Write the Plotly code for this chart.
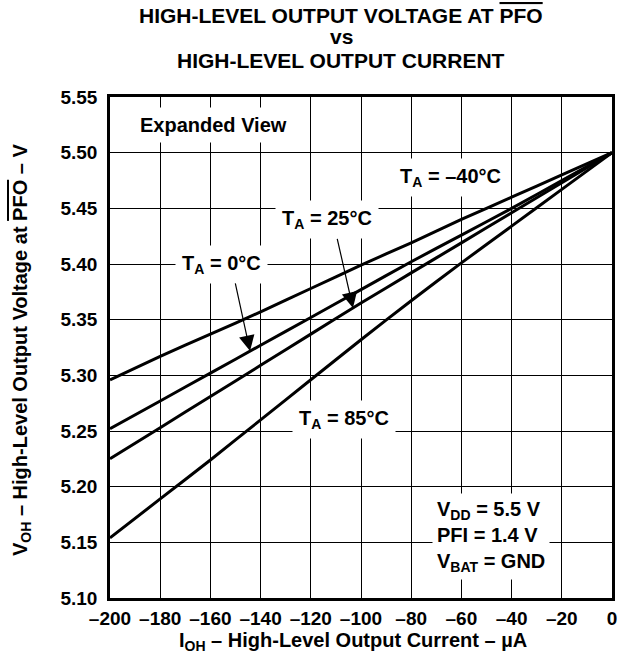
import numpy as np
import plotly.graph_objects as go

# ---- data ----
current_uA = [-200, -180, -160, -140, -120, -100, -80, -60, -40, -20, 0]
voh_m40C = [5.296, 5.317, 5.337, 5.357, 5.378, 5.399, 5.419, 5.440, 5.460, 5.480, 5.500]
voh_0C = [5.252, 5.277, 5.302, 5.327, 5.352, 5.377, 5.402, 5.426, 5.450, 5.475, 5.500]
voh_25C = [5.225, 5.253, 5.281, 5.309, 5.337, 5.365, 5.392, 5.419, 5.446, 5.473, 5.500]
voh_85C = [5.154, 5.189, 5.224, 5.260, 5.296, 5.332, 5.367, 5.401, 5.434, 5.467, 5.500]

x_tickvals = [-200, -180, -160, -140, -120, -100, -80, -60, -40, -20, 0]
x_ticktext = ["\u2013200", "\u2013180", "\u2013160", "\u2013140", "\u2013120", "\u2013100",
              "\u201380", "\u201360", "\u201340", "\u201320", "0"]
y_tickvals = [5.10, 5.15, 5.20, 5.25, 5.30, 5.35, 5.40, 5.45, 5.50, 5.55]
y_ticktext = ["5.10", "5.15", "5.20", "5.25", "5.30", "5.35", "5.40", "5.45", "5.50", "5.55"]

FONT = "Arial, Liberation Sans, Helvetica, sans-serif"
OVL = "<span style='text-decoration:overline'>PFO</span>"

# plot area in pixels (for label placement)
L, R, T, B = 110, 612, 97, 598
W, H = 619, 662


def px_x(px):
    return (px - L) / (R - L)


def px_y(py):
    return (B - py) / (B - T)


fig = go.Figure()
for name, vals in [("T_A = -40°C", voh_m40C), ("T_A = 0°C", voh_0C),
                   ("T_A = 25°C", voh_25C), ("T_A = 85°C", voh_85C)]:
    fig.add_trace(go.Scatter(x=current_uA, y=vals, mode="lines", name=name,
                             line=dict(color="black", width=3, shape="spline", smoothing=0.6),
                             showlegend=False))

fig.update_layout(
    width=W, height=H,
    margin=dict(l=L, r=W - R, t=T, b=H - B),
    paper_bgcolor="white", plot_bgcolor="white",
    font=dict(family=FONT, size=19, color="black"),
    template="none",
)
axis_common = dict(showgrid=True, gridcolor="#000000", gridwidth=1, zeroline=False,
                   showline=True, linecolor="#000000", linewidth=2.5, mirror=True,
                   layer="below traces",
                   tickfont=dict(family=FONT, size=19, color="black", weight="bold"))
fig.update_xaxes(range=[-200, 0], tickmode="array", tickvals=x_tickvals, ticktext=x_ticktext,
                 ticks="", ticklabelstandoff=1, **axis_common)
fig.update_yaxes(range=[5.10, 5.55], tickmode="array", tickvals=y_tickvals, ticktext=y_ticktext,
                 ticks="", ticklabelstandoff=6, **axis_common)

bold = lambda s: "<b>" + s + "</b>"
ann = []
# title
for txt, py in [("HIGH-LEVEL OUTPUT VOLTAGE AT " + OVL, 16), ("vs", 37), ("HIGH-LEVEL OUTPUT CURRENT", 60)]:
    ann.append(dict(text=bold(txt), xref="paper", yref="paper", x=px_x(341), y=px_y(py),
                    xanchor="center", yanchor="middle", showarrow=False,
                    font=dict(family=FONT, size=21, color="black")))
# axis titles
ann.append(dict(text=bold("I<sub>OH</sub> \u2013 High-Level Output Current \u2013 ") + "<b>\u00b5A</b>",
                xref="paper", yref="paper", x=px_x(353), y=px_y(641),
                xanchor="center", yanchor="middle", showarrow=False,
                font=dict(family=FONT, size=20, color="black")))
ann.append(dict(text=bold("V<sub>OH</sub> \u2013 High-Level Output Voltage at " + OVL + " \u2013 V"),
                xref="paper", yref="paper", x=px_x(21), y=px_y(350), textangle=-90,
                xanchor="center", yanchor="middle", showarrow=False,
                font=dict(family=FONT, size=20, color="black")))

# in-plot labels with white background
labels = [
    ("Expanded View", 213, 125),
    ("T<sub>A</sub> = \u201340\u00b0C", 450, 177),
    ("T<sub>A</sub> = 25\u00b0C", 327, 219),
    ("T<sub>A</sub> = 0\u00b0C", 221, 264),
    ("T<sub>A</sub> = 85\u00b0C", 344, 419),
]
for txt, x, y in labels:
    ann.append(dict(text=bold(txt), xref="paper", yref="paper", x=px_x(x), y=px_y(y),
                    xanchor="center", yanchor="middle", showarrow=False,
                    bgcolor="white", borderpad=6,
                    font=dict(family=FONT, size=20, color="black")))
ann.append(dict(text=bold("V<sub>DD</sub> = 5.5 V<br>PFI = 1.4 V<br>V<sub>BAT</sub> = GND"),
                xref="paper", yref="paper", x=px_x(432), y=px_y(536),
                xanchor="left", yanchor="middle", align="left", showarrow=False,
                bgcolor="white", borderpad=4,
                font=dict(family=FONT, size=20, color="black")))

# arrows to the curves (tips computed from data)
for xs, ys, xtip, tail in [(current_uA, voh_25C, -103.2, (-109.6, 5.424)),
                           (current_uA, voh_0C, -144.2, (-150.2, 5.384))]:
    ytip = float(np.interp(xtip, xs, ys))
    ann.append(dict(text="", x=xtip, y=ytip, xref="x", yref="y",
                    ax=tail[0], ay=tail[1], axref="x", ayref="y",
                    showarrow=True, arrowhead=2, arrowsize=2.6, arrowwidth=1.2,
                    arrowcolor="black", standoff=0))

fig.update_layout(annotations=ann)
fig.write_html("out.html", config={"displayModeBar": False},
               post_script="document.body.style.margin='0';")
